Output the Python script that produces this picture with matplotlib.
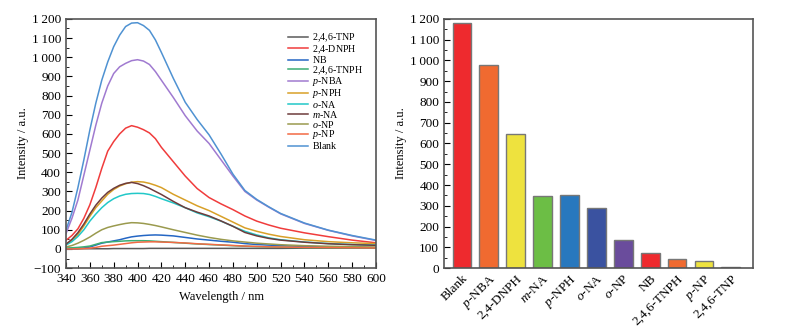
import numpy as np
import matplotlib
matplotlib.use("Agg")
import matplotlib.pyplot as plt
from matplotlib.ticker import MultipleLocator, FuncFormatter

plt.rcParams['font.family'] = ['Liberation Serif', 'DejaVu Serif']
plt.rcParams['mathtext.fontset'] = 'custom'
plt.rcParams['mathtext.rm'] = 'Liberation Serif'
plt.rcParams['mathtext.it'] = 'Liberation Serif:italic'

# emission spectra
wl = [340, 345, 350, 355, 360, 365, 370, 375, 380, 385, 390, 395, 400, 405, 410, 415, 420,
      430, 440, 450, 460, 470, 480, 490, 500, 510, 520, 540, 560, 580, 600]
tnp = [0, 0, 0, 1, 1, 1, 1, 1, 2, 2, 2, 2, 2, 2, 3, 3, 3,
       3, 3, 3, 3, 3, 3, 3, 3, 3, 3, 4, 4, 4, 4]
dnph = [45, 70, 105, 160, 230, 320, 420, 510, 560, 600, 630, 643, 635, 622, 605, 575, 530,
        455, 380, 315, 268, 235, 205, 172, 145, 125, 108, 84, 64, 46, 32]
nb = [0, 1, 3, 5, 10, 20, 30, 36, 42, 48, 56, 63, 67, 70, 72, 73, 72,
      68, 60, 52, 46, 40, 35, 28, 23, 20, 17, 13, 10, 8, 7]
tnph = [5, 6, 8, 11, 15, 24, 33, 36, 38, 40, 42, 43, 43, 43, 42, 40, 38,
        34, 30, 26, 23, 20, 17, 14, 12, 10, 9, 7, 6, 5, 4]
pnba = [80, 160, 255, 385, 515, 645, 760, 850, 915, 950, 968, 982, 987, 980, 962, 925, 880,
        790, 695, 615, 550, 465, 380, 300, 255, 218, 183, 133, 97, 68, 44]
pnph = [22, 44, 75, 120, 170, 215, 250, 285, 310, 328, 340, 348, 351, 349, 342, 332, 320,
        285, 255, 225, 200, 170, 140, 110, 92, 77, 65, 48, 38, 32, 28]
ona = [20, 38, 65, 100, 145, 182, 215, 242, 262, 276, 285, 289, 290, 289, 284, 274, 262,
       240, 215, 188, 168, 145, 118, 92, 73, 58, 48, 36, 28, 23, 20]
mna = [25, 50, 85, 130, 182, 228, 265, 295, 316, 332, 342, 347, 341, 330, 316, 300, 284,
       248, 215, 192, 172, 146, 118, 86, 68, 55, 46, 35, 27, 22, 19]
onp = [10, 18, 30, 45, 62, 82, 100, 112, 120, 127, 133, 137, 136, 133, 128, 122, 115,
       100, 86, 72, 60, 50, 42, 36, 30, 26, 22, 17, 14, 12, 10]
pnp = [0, 0, 1, 2, 4, 8, 14, 17, 20, 24, 28, 32, 35, 36, 37, 37, 36,
       34, 31, 27, 24, 21, 18, 15, 13, 11, 10, 8, 7, 6, 5]
blank = [98, 190, 320, 465, 620, 760, 880, 975, 1055, 1115, 1160, 1178, 1180, 1165, 1140, 1090, 1025,
         890, 765, 675, 595, 495, 390, 305, 258, 220, 185, 135, 98, 70, 46]

series = [tnp, dnph, nb, tnph, pnba, pnph, ona, mna, onp, pnp, blank]
names = [r'$\mathregular{2}$,4,6-TNP', r'$\mathregular{2}$,4-DNPH', r'$\mathregular{N}$B',
         r'$\mathregular{2}$,4,6-TNPH', r'$\mathit{p}$-NBA', r'$\mathit{p}$-NPH',
         r'$\mathit{o}$-NA', r'$\mathit{m}$-NA', r'$\mathit{o}$-NP', r'$\mathit{p}$-NP',
         r'$\mathregular{B}$lank']
line_colors = ['#5a5a5a', '#f03c3c', '#2466c4', '#3cae74', '#a07ad0', '#d8a028',
               '#22c8c8', '#6e3c3c', '#9a9a4e', '#f26a44', '#4f92d2']

# bar chart
bar_labels = ['Blank', r'$\mathit{p}$-NBA', '2,4-DNPH', r'$\mathit{m}$-NA', r'$\mathit{p}$-NPH',
              r'$\mathit{o}$-NA', r'$\mathit{o}$-NP', 'NB', '2,4,6-TNPH', r'$\mathit{p}$-NP', '2,4,6-TNP']
bar_values = [1180, 980, 645, 348, 350, 290, 137, 75, 42, 36, 3]
bar_colors = ['#ee2a2e', '#f06a30', '#eee23e', '#6cbe45', '#2878be', '#3a52a0',
              '#6a4c9c', '#ee2a2e', '#f06a30', '#eee23e', '#222222']


def fmt(v, pos):
    s = f"{abs(v):,.0f}".replace(",", "\u2009")
    return ("\u2212" + s) if v < 0 else s


fig = plt.figure(figsize=(7.95, 3.31), dpi=100)
ax1 = fig.add_axes([0.083, 0.190, 0.390, 0.753])
ax2 = fig.add_axes([0.5585, 0.190, 0.3885, 0.753])

for y, n, c in zip(series, names, line_colors):
    ax1.plot(wl, y, color=c, lw=1.1, label=n)
ax1.set_xlim(340, 600)
ax1.set_ylim(-100, 1200)
ax1.xaxis.set_major_locator(MultipleLocator(20))
ax1.xaxis.set_minor_locator(MultipleLocator(10))
ax1.yaxis.set_major_locator(MultipleLocator(100))
ax1.yaxis.set_minor_locator(MultipleLocator(50))
ax1.yaxis.set_major_formatter(FuncFormatter(fmt))
ax1.set_xlabel("Wavelength / nm", fontsize=9)
ax1.set_ylabel("Intensity / a.u.", fontsize=9, labelpad=2)
ax1.legend(loc='upper right', frameon=False, fontsize=7.2, handlelength=2.0,
           handletextpad=0.4, labelspacing=-0.12, borderaxespad=0.9)

x = np.arange(len(bar_values))
ax2.bar(x, bar_values, width=0.7, color=bar_colors, edgecolor='#777777', linewidth=1)
ax2.set_xlim(-0.67, 10.82)
ax2.set_ylim(0, 1200)
ax2.set_xticks(x)
ax2.set_xticklabels(bar_labels, rotation=45, ha='right', rotation_mode='anchor', fontsize=9.5)
ax2.yaxis.set_major_locator(MultipleLocator(100))
ax2.yaxis.set_minor_locator(MultipleLocator(50))
ax2.yaxis.set_major_formatter(FuncFormatter(fmt))
ax2.set_ylabel("Intensity / a.u.", fontsize=9, labelpad=2)

for ax in (ax1, ax2):
    for sp in ax.spines.values():
        sp.set_color('#555555')
        sp.set_linewidth(1.2)
    ax.tick_params(axis='both', which='both', direction='in', labelsize=9.5)
    ax.tick_params(which='major', length=4)
    ax.tick_params(which='minor', length=2)
ax2.tick_params(axis='x', which='both', length=0, pad=3)

fig.savefig("out.png", dpi=100)
